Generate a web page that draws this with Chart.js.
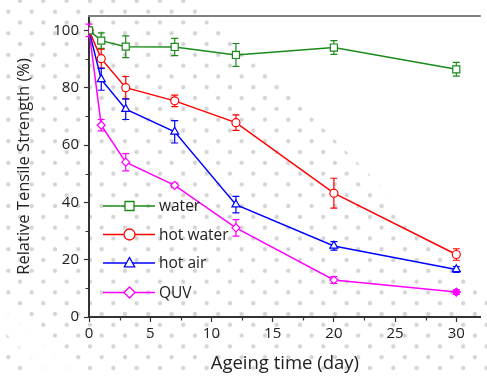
<!DOCTYPE html>
<html>
<head>
<meta charset="utf-8">
<script src="https://cdn.jsdelivr.net/npm/chart.js@4/dist/chart.umd.min.js"></script>
<style>
  html, body { margin: 0; padding: 0; background: #fff; }
  #wrap { position: relative; width: 487px; height: 376px; }
  #dots {
    position: absolute; left: 0; top: 0; width: 487px; height: 376px;
    background-image:
      radial-gradient(circle, #d4d4d4 1.6px, rgba(212,212,212,0) 2.6px),
      radial-gradient(circle, #d4d4d4 1.6px, rgba(212,212,212,0) 2.6px);
    background-size: 23.33px 21.6px, 23.33px 21.6px;
    background-position: 8.33px -9.9px, -3.37px 0.9px;
    clip-path: polygon(0 0, 195px 0, 487px 292px, 487px 376px, 0 376px);
  }
  #swoosh {
    position: absolute; left: 0; top: 0; width: 487px; height: 376px;
    background: rgba(255,255,255,0.9);
    clip-path: polygon(0 298px, 0 328px, 48px 376px, 82px 376px);
  }
  canvas { position: absolute; left: 0; top: 0; }
</style>
</head>
<body>
<div id="wrap">
  <div id="dots"></div>
  <div id="swoosh"></div>
  <canvas id="chart" width="487" height="376"></canvas>
</div>
<script>
const days = [0, 1, 3, 7, 12, 20, 30];

const water = [100, 96.4, 94.3, 94.2, 91.4, 94.0, 86.4];
const waterErr = [0, 2.7, 3.8, 3.0, 4.0, 2.4, 2.4];

const hotWater = [100, 90.1, 80.0, 75.4, 67.8, 43.2, 21.8];
const hotWaterErr = [0, 3.3, 3.9, 2.0, 2.7, 5.2, 2.0];

const hotAir = [100, 82.9, 72.5, 64.6, 39.2, 24.8, 16.6];
const hotAirErr = [0, 3.8, 3.6, 3.9, 2.9, 1.5, 1.0];

const quv = [100, 66.9, 54.0, 45.9, 31.1, 12.9, 8.7];
const quvErr = [2.2, 2.0, 3.0, 0.8, 2.9, 1.2, 0.8];

const xTicks = [0, 5, 10, 15, 20, 25, 30];
const yTicks = [0, 20, 40, 60, 80, 100];

const FONT = "'Open Sans', 'DejaVu Sans', sans-serif";
const TEXT = '#222';

const toPoints = (vals) => vals.map((v, i) => ({x: days[i], y: v}));

// error bars drawn under the markers
const errorBars = {
  id: 'errorBars',
  beforeDatasetsDraw(chart) {
    const ctx = chart.ctx;
    const xs = chart.scales.x, ys = chart.scales.y;
    chart.data.datasets.forEach(ds => {
      ctx.save();
      ctx.strokeStyle = ds.borderColor;
      ctx.lineWidth = 1.2;
      ds.data.forEach((p, i) => {
        const e = ds.err[i];
        if (!e) return;
        const x = xs.getPixelForValue(p.x);
        const y1 = ys.getPixelForValue(p.y + e);
        const y2 = ys.getPixelForValue(p.y - e);
        ctx.beginPath();
        ctx.moveTo(x, y1); ctx.lineTo(x, y2);
        ctx.moveTo(x - 3.5, y1); ctx.lineTo(x + 3.5, y1);
        ctx.moveTo(x - 3.5, y2); ctx.lineTo(x + 3.5, y2);
        ctx.stroke();
      });
      ctx.restore();
    });
  }
};

function marker(ctx, style, x, y, r) {
  ctx.beginPath();
  if (style === 'rect') {
    ctx.rect(x - r, y - r, 2 * r, 2 * r);
  } else if (style === 'circle') {
    ctx.arc(x, y, r, 0, Math.PI * 2);
  } else if (style === 'triangle') {
    ctx.moveTo(x, y - r);
    ctx.lineTo(x + r * 0.95, y + r * 0.7);
    ctx.lineTo(x - r * 0.95, y + r * 0.7);
    ctx.closePath();
  } else {
    ctx.moveTo(x - r, y); ctx.lineTo(x, y - r);
    ctx.lineTo(x + r, y); ctx.lineTo(x, y + r);
    ctx.closePath();
  }
  ctx.fill();
  ctx.stroke();
}

// frame line on top, minor ticks and the legend inside the plot
const extras = {
  id: 'extras',
  afterDraw(chart) {
    const ctx = chart.ctx;
    const a = chart.chartArea;
    const xs = chart.scales.x, ys = chart.scales.y;
    ctx.save();
    ctx.strokeStyle = '#808080';
    ctx.lineWidth = 2;
    ctx.beginPath();
    ctx.moveTo(a.left - 1, a.top); ctx.lineTo(a.right, a.top);
    ctx.stroke();

    ctx.strokeStyle = '#333';
    ctx.lineWidth = 1.2;
    ctx.beginPath();
    for (let v = 10; v < 105; v += 20) {
      const y = Math.round(ys.getPixelForValue(v)) + 0.5;
      ctx.moveTo(a.left - 3.5, y); ctx.lineTo(a.left, y);
    }
    for (let v = 2.5; v < 32; v += 5) {
      const x = Math.round(xs.getPixelForValue(v)) + 0.5;
      ctx.moveTo(x, a.bottom); ctx.lineTo(x, a.bottom + 3.5);
    }
    ctx.stroke();

    const rows = [206, 234.5, 263, 292.5];
    ctx.font = '15.5px ' + FONT;
    ctx.textBaseline = 'middle';
    chart.data.datasets.forEach((ds, i) => {
      const y = rows[i];
      ctx.strokeStyle = ds.borderColor;
      ctx.lineWidth = 1.5;
      ctx.beginPath();
      ctx.moveTo(103, y); ctx.lineTo(155, y);
      ctx.stroke();
      ctx.fillStyle = '#fff';
      ctx.lineWidth = 1.3;
      marker(ctx, ds.pointStyle, 129.5, y, ds.pointStyle === 'rect' ? 4.5 : 5.5);
      ctx.fillStyle = TEXT;
      ctx.fillText(ds.label, 159, y + 1);
    });
    ctx.restore();
  }
};

new Chart(document.getElementById('chart'), {
  type: 'line',
  data: {
    datasets: [
      {label: 'water', data: toPoints(water), err: waterErr, borderColor: '#1a8a1a',
       pointStyle: 'rect', pointRadius: 5},
      {label: 'hot water', data: toPoints(hotWater), err: hotWaterErr, borderColor: '#ff0000',
       pointStyle: 'circle', pointRadius: 4},
      {label: 'hot air', data: toPoints(hotAir), err: hotAirErr, borderColor: '#0000ff',
       pointStyle: 'triangle', pointRadius: 4.6},
      {label: 'QUV', data: toPoints(quv), err: quvErr, borderColor: '#ff00ff',
       pointStyle: 'rectRot', pointRadius: 4,
       pointBackgroundColor: ['#fff', '#fff', '#fff', '#fff', '#fff', '#fff', '#ff00ff']}
    ].map(ds => Object.assign({
      borderWidth: 1.5,
      pointBorderWidth: 1.2,
      pointBackgroundColor: '#fff',
      pointBorderColor: ds.borderColor,
      fill: false,
      tension: 0
    }, ds))
  },
  options: {
    responsive: false,
    animation: false,
    layout: {padding: {top: 16, left: 0, right: 0, bottom: 0}},
    plugins: {legend: {display: false}, tooltip: {enabled: false}},
    scales: {
      x: {
        type: 'linear', min: 0, max: 32,
        afterFit: s => { s.height = 59; },
        afterBuildTicks: s => { s.ticks = xTicks.map(v => ({value: v})); },
        ticks: {color: TEXT, font: {family: FONT, size: 15}, padding: 3, maxRotation: 0},
        grid: {drawOnChartArea: false, tickLength: 5, tickColor: '#333', tickWidth: 1.2},
        border: {color: '#333', width: 2},
        title: {display: true, text: 'Ageing time (day)', color: TEXT,
                font: {family: FONT, size: 18.5}, padding: {top: 0, bottom: 1}}
      },
      y: {
        min: 0, max: 105,
        afterFit: s => { s.width = 89; },
        afterBuildTicks: s => { s.ticks = yTicks.map(v => ({value: v})); },
        ticks: {color: TEXT, font: {family: FONT, size: 15}, padding: 5},
        grid: {drawOnChartArea: false, tickLength: 5, tickColor: '#333', tickWidth: 1.2},
        border: {color: '#333', width: 2},
        title: {display: true, text: 'Relative Tensile Strength (%)', color: TEXT,
                font: {family: FONT, size: 16.5}, padding: {top: 14, bottom: 0}}
      }
    }
  },
  plugins: [errorBars, extras]
});
</script>
</body>
</html>
